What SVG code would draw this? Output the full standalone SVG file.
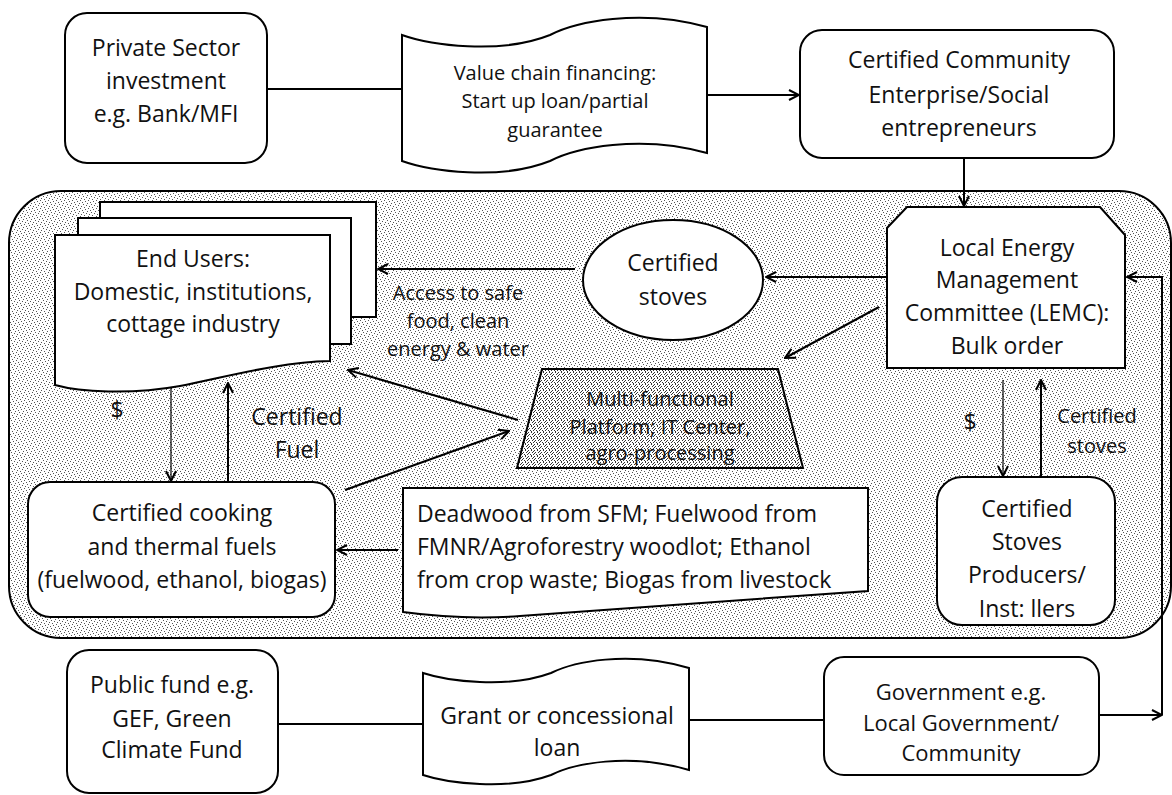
<svg xmlns="http://www.w3.org/2000/svg" width="1172" height="795" viewBox="0 0 1172 795">
  <defs>
    <!-- stippled shading for the community container -->
    <pattern id="stipple" width="8" height="8" patternUnits="userSpaceOnUse">
      <rect width="8" height="8" fill="#ffffff"/>
      <g fill="#555">
        <rect x="0" y="0" width="1" height="1"/>
        <rect x="5" y="1" width="1" height="1"/>
        <rect x="2" y="2" width="1" height="1"/>
        <rect x="7" y="3" width="1" height="1"/>
        <rect x="3" y="4" width="1" height="1"/>
        <rect x="6" y="5" width="1" height="1"/>
        <rect x="1" y="6" width="1" height="1"/>
        <rect x="4" y="7" width="1" height="1"/>
      </g>
    </pattern>
    <!-- denser stipple for the platform trapezoid -->
    <pattern id="stippleDense" width="6" height="6" patternUnits="userSpaceOnUse">
      <rect width="6" height="6" fill="#ffffff"/>
      <g fill="#333">
        <rect x="0" y="0" width="1" height="1"/>
        <rect x="3" y="0" width="1" height="1"/>
        <rect x="1" y="2" width="1" height="1"/>
        <rect x="4" y="2" width="1" height="1"/>
        <rect x="0" y="3" width="1" height="1"/>
        <rect x="5" y="4" width="1" height="1"/>
        <rect x="2" y="4" width="1" height="1"/>
        <rect x="3" y="5" width="1" height="1"/>
        <rect x="5" y="1" width="1" height="1"/>
      </g>
    </pattern>
    <marker id="arrow" viewBox="0 0 12 12" refX="11" refY="6" markerWidth="12" markerHeight="12" markerUnits="userSpaceOnUse" orient="auto">
      <path d="M1,1 L11,6 L1,11" fill="none" stroke="#000" stroke-width="2"/>
    </marker>
  </defs>
  <style>
    .box { fill: #ffffff; stroke: #000; stroke-width: 2; }
    .wire { fill: none; stroke: #000; stroke-width: 2; }
    .thin { fill: none; stroke: #000; stroke-width: 1.2; }
    text { font-family: "Open Sans", "Liberation Sans", sans-serif; fill: #111; text-anchor: middle; }
    .t23 { font-size: 23px; }
    .t22 { font-size: 22px; }
    .t20 { font-size: 20px; }
  </style>

  <rect width="1172" height="795" fill="#ffffff"/>

  <!-- community container -->
  <g id="container">
    <rect x="9" y="191" width="1162" height="447" rx="52" fill="url(#stipple)" stroke="#000" stroke-width="2"/>
  </g>

  <g id="private-sector">
    <rect class="box" x="65" y="13" width="202" height="150" rx="22"/>
    <text class="t23" x="166" y="56">Private Sector</text>
    <text class="t23" x="166" y="89">investment</text>
    <text class="t23" x="166" y="122">e.g. Bank/MFI</text>
  </g>

  <g id="value-chain-financing">
    <path class="box" d="M402,35 C430,45 500,55 550,35 C575,22 640,8 707,27 V153 C640,134 575,148 550,161 C500,181 430,171 402,161 Z"/>
    <text class="t20" x="555" y="80">Value chain financing:</text>
    <text class="t20" x="555" y="108">Start up loan/partial</text>
    <text class="t20" x="555" y="137">guarantee</text>
  </g>

  <g id="community-enterprise">
    <rect class="box" x="800" y="30" width="314" height="128" rx="22"/>
    <text class="t23" x="959" y="68">Certified Community</text>
    <text class="t23" x="959" y="103">Enterprise/Social</text>
    <text class="t23" x="959" y="136">entrepreneurs</text>
  </g>

  <g id="end-users">
    <rect class="box" x="100" y="202" width="276" height="115"/>
    <rect class="box" x="78" y="218" width="273" height="126"/>
    <path class="box" d="M55,235 H330 V361 C280,362 230,376 180,386 C130,395 80,392 55,385 Z"/>
    <text class="t23" x="193" y="267">End Users:</text>
    <text class="t23" x="193" y="300">Domestic, institutions,</text>
    <text class="t23" x="193" y="332">cottage industry</text>
  </g>

  <g id="certified-stoves">
    <ellipse class="box" cx="673" cy="280" rx="90" ry="60"/>
    <text class="t23" x="673" y="271">Certified</text>
    <text class="t23" x="673" y="305">stoves</text>
  </g>

  <g id="lemc">
    <polygon class="box" points="907,207 1100,207 1125,235 1125,368 887,368 887,228"/>
    <text class="t23" x="1007" y="256">Local Energy</text>
    <text class="t23" x="1007" y="288">Management</text>
    <text class="t23" x="1007" y="321">Committee (LEMC):</text>
    <text class="t23" x="1007" y="354">Bulk order</text>
  </g>

  <g id="platform">
    <polygon points="542,369 778,369 803,468 517,468" fill="url(#stippleDense)" stroke="#000" stroke-width="2"/>
    <text class="t20" x="660" y="406">Multi-functional</text>
    <text class="t20" x="660" y="434">Platform; IT Center,</text>
    <text class="t20" x="660" y="460">agro-processing</text>
  </g>

  <g id="cooking-fuels">
    <rect class="box" x="28" y="482" width="307" height="135" rx="22"/>
    <text class="t23" x="182" y="521">Certified cooking</text>
    <text class="t23" x="182" y="555">and thermal fuels</text>
    <text class="t23" x="182" y="588">(fuelwood, ethanol, biogas)</text>
  </g>

  <g id="fuel-sources">
    <path class="box" d="M403,488 H868 V591 C700,602 600,610 520,616 C480,619 440,617 403,612 Z"/>
    <text class="t23" x="417" y="522" style="text-anchor:start">Deadwood from SFM; Fuelwood from</text>
    <text class="t23" x="417" y="555" style="text-anchor:start">FMNR/Agroforestry woodlot; Ethanol</text>
    <text class="t23" x="417" y="588" style="text-anchor:start">from crop waste; Biogas from livestock</text>
  </g>

  <g id="stove-producers">
    <rect class="box" x="937" y="477" width="178" height="148" rx="25"/>
    <text class="t23" x="1027" y="517">Certified</text>
    <text class="t23" x="1027" y="550">Stoves</text>
    <text class="t23" x="1027" y="583">Producers/</text>
    <text class="t23" x="1027" y="617">Inst: llers</text>
  </g>

  <g id="public-fund">
    <rect class="box" x="67" y="650" width="211" height="143" rx="22"/>
    <text class="t23" x="172" y="693">Public fund e.g.</text>
    <text class="t23" x="172" y="727">GEF, Green</text>
    <text class="t23" x="172" y="758">Climate Fund</text>
  </g>

  <g id="grant-loan">
    <path class="box" d="M423,673 C447,681 508,689 551,673 C573,662 628,650 689,668 V770 C628,752 573,764 551,775 C508,791 447,783 423,775 Z"/>
    <text class="t23" x="557" y="724">Grant or concessional</text>
    <text class="t23" x="557" y="756">loan</text>
  </g>

  <g id="government">
    <rect class="box" x="824" y="657" width="275" height="118" rx="20"/>
    <text class="t22" x="961" y="700">Government e.g.</text>
    <text class="t22" x="961" y="731">Local Government/</text>
    <text class="t22" x="961" y="761">Community</text>
  </g>

  <!-- connectors -->
  <g id="connectors">
    <line class="wire" x1="267" y1="89" x2="402" y2="89"/>
    <line class="wire" x1="707" y1="95" x2="799" y2="95" marker-end="url(#arrow)"/>
    <line class="wire" x1="964" y1="158" x2="964" y2="206" marker-end="url(#arrow)"/>
    <line class="wire" x1="887" y1="277" x2="766" y2="277" marker-end="url(#arrow)"/>
    <line class="wire" x1="879" y1="307" x2="785" y2="358" marker-end="url(#arrow)"/>
    <line class="wire" x1="575" y1="269" x2="378" y2="269" marker-end="url(#arrow)"/>
    <line class="wire" x1="518" y1="420" x2="348" y2="370" marker-end="url(#arrow)"/>
    <line class="wire" x1="345" y1="490" x2="509" y2="431" marker-end="url(#arrow)"/>
    <line class="thin" x1="171" y1="388" x2="171" y2="481" marker-end="url(#arrow)"/>
    <line class="wire" x1="228" y1="482" x2="228" y2="383" marker-end="url(#arrow)"/>
    <line class="wire" x1="398" y1="550" x2="337" y2="550" marker-end="url(#arrow)"/>
    <line class="thin" x1="1003" y1="380" x2="1003" y2="476" marker-end="url(#arrow)"/>
    <line class="wire" x1="1041" y1="477" x2="1041" y2="380" marker-end="url(#arrow)"/>
    <line class="wire" x1="278" y1="724" x2="423" y2="724"/>
    <line class="wire" x1="689" y1="720" x2="824" y2="720"/>
    <line class="wire" x1="1099" y1="715" x2="1162" y2="715" marker-end="url(#arrow)"/>
    <polyline class="wire" points="1162,715 1162,277 1127,277" marker-end="url(#arrow)"/>
    <text class="t20" x="458" y="300">Access to safe</text>
    <text class="t20" x="458" y="328">food, clean</text>
    <text class="t20" x="458" y="356">energy &amp; water</text>
    <text class="t23" x="117" y="418">$</text>
    <text class="t23" x="297" y="425">Certified</text>
    <text class="t23" x="297" y="458">Fuel</text>
    <text class="t23" x="970" y="430">$</text>
    <text class="t20" x="1097" y="423">Certified</text>
    <text class="t20" x="1097" y="453">stoves</text>
  </g>
</svg>
